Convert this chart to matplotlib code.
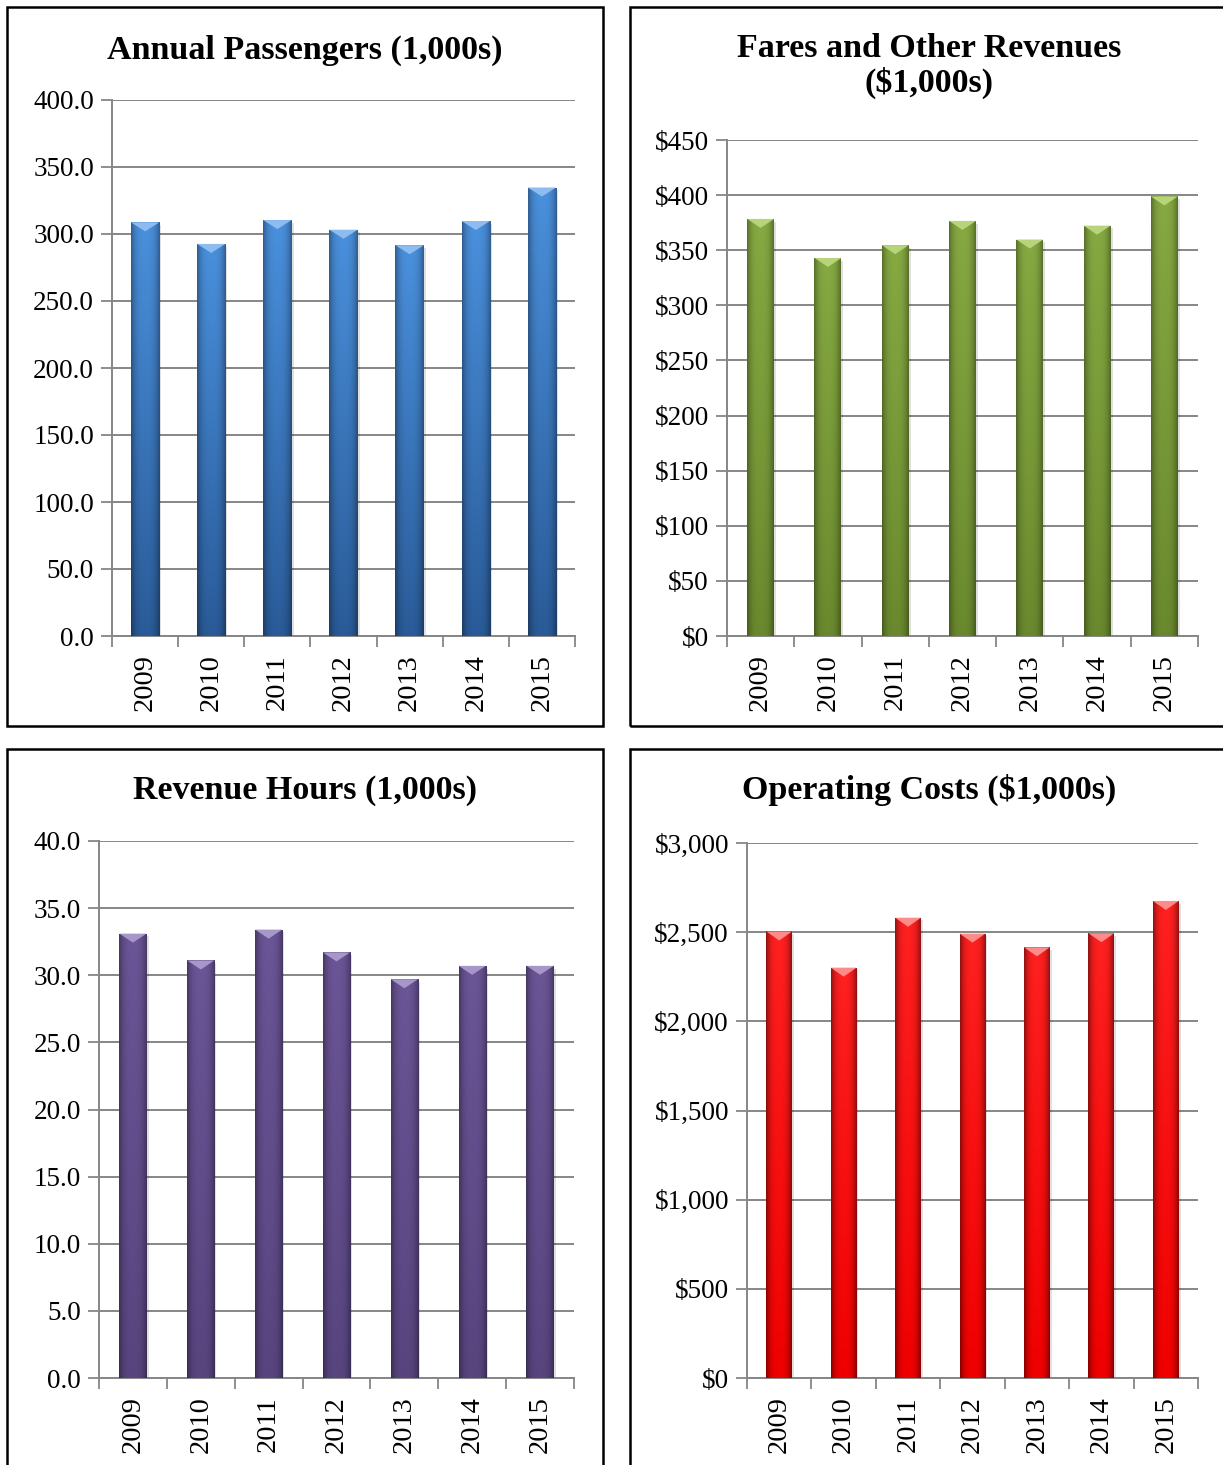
import numpy as np
import matplotlib
matplotlib.use("Agg")
import matplotlib.pyplot as plt
from matplotlib.patches import Rectangle, Polygon
from matplotlib.colors import to_rgb
from matplotlib.ticker import FuncFormatter, MultipleLocator, FixedLocator

plt.rcParams['font.family'] = ['Liberation Serif', 'DejaVu Serif']

# ---- data -------------------------------------------------------------
years = ['2009', '2010', '2011', '2012', '2013', '2014', '2015']
passengers = [308.7, 292.6, 310.4, 303.2, 291.6, 309.7, 334.7]
fares = [378.4, 343.0, 354.6, 376.6, 359.7, 372.3, 398.8]
rev_hours = [33.1, 31.1, 33.4, 31.7, 29.7, 30.7, 30.7]
op_costs = [2504, 2301, 2581, 2492, 2415, 2494, 2675]

W, H = 1223, 1465
fig = plt.figure(figsize=(W / 100, H / 100), dpi=100)
fig.patch.set_facecolor('white')

GRID = '#868686'
YTICK_SIZE = 19.5
XTICK_SIZE = 20.5


def px_axes(left, top, right, bottom):
    return fig.add_axes([left / W, 1 - bottom / H, (right - left) / W, (bottom - top) / H])


def panel_frame(x0, y0, x1, y1):
    fig.patches.append(Rectangle((x0 / W, 1 - y1 / H), (x1 - x0) / W, (y1 - y0) / H,
                                 transform=fig.transFigure, fill=False,
                                 edgecolor='black', linewidth=1.8, zorder=0))


def shaded_bars(ax, values, top_c, bot_c, bevel_c, edge_dark, width, ymax):
    xs = np.arange(len(values))
    bars = ax.bar(xs, values, width=width, color=bot_c, zorder=3, linewidth=0)
    bbox = ax.get_window_extent()
    px_per_unit = bbox.height / ymax
    bevel = 9 / px_per_unit
    top_c = np.array(to_rgb(top_c))
    bot_c = np.array(to_rgb(bot_c))
    n = 64
    t = np.linspace(0, 1, n)[:, None, None]          # 0 bottom -> 1 top
    u = np.linspace(-1, 1, n)[None, :, None]          # across the bar
    side = 1 - edge_dark * np.abs(u) ** 3
    for b in bars:
        x0, w, h = b.get_x(), b.get_width(), b.get_height()
        # soft drop shadow
        ax.add_patch(Rectangle((x0 + 0.03, 0), w, h - 0.3 * bevel, facecolor='#000000',
                               alpha=0.12, linewidth=0, zorder=2))
        img = (bot_c[None, None, :] * (1 - t) + top_c[None, None, :] * t) * side
        im = ax.imshow(np.clip(img, 0, 1), extent=(x0, x0 + w, 0, h), origin='lower',
                       aspect='auto', zorder=3.5, interpolation='bilinear')
        im.set_clip_path(b)
        ax.add_patch(Polygon([(x0, h), (x0 + w, h), (x0 + w / 2, h - bevel)],
                             closed=True, facecolor=bevel_c, linewidth=0, zorder=4))


def style_axes(ax, ymax, step, fmt):
    ax.set_xlim(-0.5, len(years) - 0.5)
    ax.set_ylim(0, ymax)
    ax.yaxis.set_major_locator(MultipleLocator(step))
    ax.yaxis.set_major_formatter(FuncFormatter(fmt))
    ax.set_xticks(np.arange(len(years)))
    ax.set_xticklabels(years, rotation=90)
    ax.xaxis.set_minor_locator(FixedLocator(np.arange(-0.5, len(years), 1.0)))
    ax.tick_params(axis='x', which='major', length=0, pad=13, labelsize=XTICK_SIZE)
    ax.tick_params(axis='x', which='minor', length=8, width=1.3, color=GRID, direction='out')
    ax.tick_params(axis='y', which='major', length=8, width=1.3, color=GRID,
                   direction='out', pad=5, labelsize=YTICK_SIZE)
    ax.grid(axis='y', color=GRID, linewidth=1.4, zorder=1)
    ax.set_axisbelow(True)
    for s in ('top', 'right'):
        ax.spines[s].set_visible(False)
    for s in ('left', 'bottom'):
        ax.spines[s].set_color(GRID)
        ax.spines[s].set_linewidth(1.4)
    ax.set_facecolor('none')


# panel frames
panel_frame(7, 7, 603, 726)
panel_frame(630, 7, 1235, 726)
panel_frame(7, 749, 603, 1480)
panel_frame(630, 749, 1235, 1480)

title_kw = dict(ha='center', va='center', fontsize=24.5, fontweight='bold')
fig.text(305 / W, 1 - 50 / H, 'Annual Passengers (1,000s)', **title_kw)
fig.text(929 / W, 1 - 66 / H, 'Fares and Other Revenues\n($1,000s)', linespacing=1.12, **title_kw)
fig.text(305 / W, 1 - 790 / H, 'Revenue Hours (1,000s)', **title_kw)
fig.text(929 / W, 1 - 790 / H, 'Operating Costs ($1,000s)', **title_kw)

one_dec = lambda v, p: f'{v:.1f}'
dollars = lambda v, p: f'${v:,.0f}'

# Annual passengers
ax1 = px_axes(112, 100, 575, 636)
style_axes(ax1, 400, 50, one_dec)
shaded_bars(ax1, passengers, '#4a90dc', '#2a5b98', '#8cbcf0', 0.35, 0.43, 400)
style_axes(ax1, 400, 50, one_dec)

# Fares and other revenues
ax2 = px_axes(727, 140, 1198, 636)
style_axes(ax2, 450, 50, dollars)
shaded_bars(ax2, fares, '#86a942', '#6a892e', '#b8d47a', 0.35, 0.40, 450)
style_axes(ax2, 450, 50, dollars)

# Revenue hours
ax3 = px_axes(99, 841, 574, 1378)
style_axes(ax3, 40, 5, one_dec)
shaded_bars(ax3, rev_hours, '#6a5596', '#58457f', '#a796c8', 0.35, 0.40, 40)
style_axes(ax3, 40, 5, one_dec)

# Operating costs
ax4 = px_axes(747, 843, 1198, 1378)
style_axes(ax4, 3000, 500, dollars)
shaded_bars(ax4, op_costs, '#ff2020', '#f00000', '#ff8a8a', 0.45, 0.40, 3000)
style_axes(ax4, 3000, 500, dollars)

fig.savefig('out.png', dpi=100, facecolor='white')
